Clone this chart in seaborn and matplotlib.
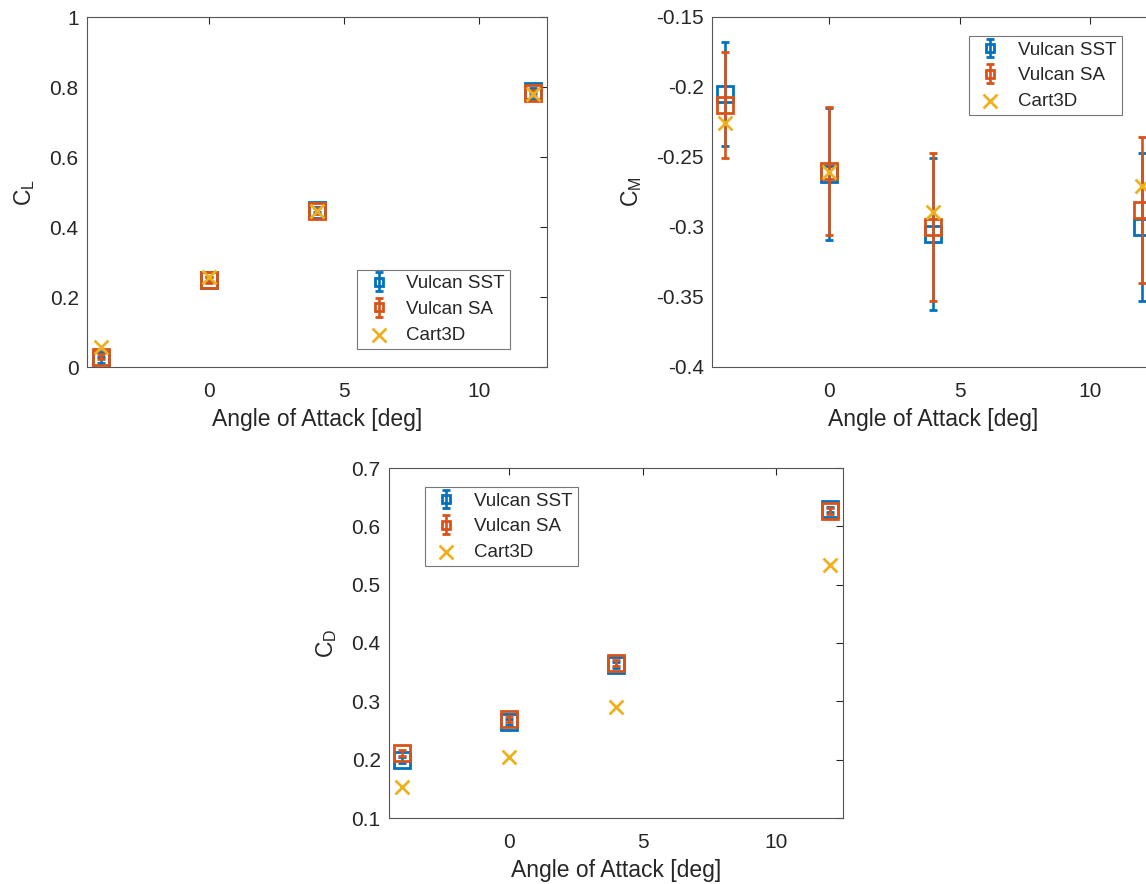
import numpy as np
import seaborn as sns
import matplotlib
matplotlib.use('Agg')
import matplotlib.pyplot as plt

# angle of attack [deg]
aoa = [-4, 0, 4, 12]

# lift coefficient
cl_sst = [0.020, 0.250, 0.450, 0.790]
cl_sst_err = [0.008, 0.008, 0.008, 0.008]
cl_sa = [0.030, 0.248, 0.445, 0.783]
cl_sa_err = [0.008, 0.008, 0.008, 0.008]
cl_cart = [0.057, 0.257, 0.445, 0.780]

# moment coefficient
cm_sst = [-0.205, -0.262, -0.305, -0.300]
cm_sst_err = [0.037, 0.047, 0.054, 0.053]
cm_sa = [-0.213, -0.260, -0.300, -0.288]
cm_sa_err = [0.038, 0.046, 0.053, 0.052]
cm_cart = [-0.226, -0.261, -0.289, -0.271]

# drag coefficient
cd_sst = [0.200, 0.264, 0.363, 0.629]
cd_sst_err = [0.005, 0.005, 0.005, 0.005]
cd_sa = [0.211, 0.270, 0.366, 0.626]
cd_sa_err = [0.005, 0.005, 0.005, 0.005]
cd_cart = [0.153, 0.205, 0.290, 0.534]

labels = ['Vulcan SST', 'Vulcan SA', 'Cart3D']
colors = ['#0072BD', '#D95319', '#EDB120']

sns.set_theme(style='white')
plt.rcParams['font.family'] = ['Liberation Sans', 'DejaVu Sans']
plt.rcParams['mathtext.fontset'] = 'custom'
plt.rcParams['mathtext.rm'] = 'Liberation Sans'
plt.rcParams['text.color'] = '#262626'

W, H = 1146, 884
fig = plt.figure(figsize=(W / 100, H / 100), dpi=100)


def px_axes(left, top, right, bottom):
    return fig.add_axes([left / W, 1 - bottom / H, (right - left) / W, (bottom - top) / H])


def draw_panel(ax, sst, sst_err, sa, sa_err, cart, ylim, yticks, ylabel, leg_loc, leg_anchor):
    ax.errorbar(aoa, sst, yerr=sst_err, fmt='s', color=colors[0], mfc='none',
                ms=11, mew=2, elinewidth=1.9, capsize=2.8, capthick=1.9,
                label=labels[0], zorder=2)
    ax.errorbar(aoa, sa, yerr=sa_err, fmt='s', color=colors[1], mfc='none',
                ms=11, mew=2, elinewidth=1.9, capsize=2.8, capthick=1.9,
                label=labels[1], zorder=3)
    sns.scatterplot(x=aoa, y=cart, marker='x', color=colors[2], s=100,
                    linewidth=2, label=labels[2], ax=ax, zorder=4)
    ax.set_xlim(-4.5, 12.5)
    ax.set_xticks([0, 5, 10])
    ax.set_ylim(*ylim)
    ax.set_yticks(yticks)
    ax.set_yticklabels([f'{t:g}' for t in yticks])
    ax.set_xlabel('Angle of Attack [deg]', fontsize=16.5, labelpad=5)
    ax.set_ylabel(ylabel, fontsize=16.5, labelpad=9)
    ax.tick_params(direction='in', length=5, width=0.8, labelsize=15,
                   top=True, right=True, colors='#262626')
    ax.tick_params(axis='x', pad=11)
    ax.tick_params(axis='y', pad=6)
    for sp in ax.spines.values():
        sp.set_color('#555555')
        sp.set_linewidth(0.8)
    handles, labs = ax.get_legend_handles_labels()
    order = [labs.index(l) for l in labels]
    leg = ax.legend([handles[i] for i in order], labels, loc=leg_loc,
                    bbox_to_anchor=leg_anchor, fontsize=13.5, frameon=True,
                    fancybox=False, borderaxespad=0, handletextpad=0.6,
                    labelspacing=0.45, borderpad=0.3, markerscale=0.5,
                    handlelength=1.7)
    leg.get_frame().set_edgecolor('#555555')
    leg.get_frame().set_linewidth(0.8)
    # keep the Cart3D cross at full size, thin the small legend squares
    leg.legend_handles[2].set_sizes([100])
    for line in leg.get_lines():
        if line.get_marker() == 's':
            line.set_markeredgewidth(1.3)


ax1 = px_axes(87, 17, 547, 367)
draw_panel(ax1, cl_sst, cl_sst_err, cl_sa, cl_sa_err, cl_cart,
           (0, 1), [0, 0.2, 0.4, 0.6, 0.8, 1], r'$\mathrm{C_L}$',
           'lower right', (0.92, 0.051))

ax2 = px_axes(712, 17, 1155, 367)
draw_panel(ax2, cm_sst, cm_sst_err, cm_sa, cm_sa_err, cm_cart,
           (-0.4, -0.15), [-0.4, -0.35, -0.3, -0.25, -0.2, -0.15], r'$\mathrm{C_M}$',
           'upper right', (0.925, 0.946))

ax3 = px_axes(389, 468, 843, 818)
draw_panel(ax3, cd_sst, cd_sst_err, cd_sa, cd_sa_err, cd_cart,
           (0.1, 0.7), [0.1, 0.2, 0.3, 0.4, 0.5, 0.6, 0.7], r'$\mathrm{C_D}$',
           'upper left', (0.079, 0.946))

fig.savefig('out.png', dpi=100)
